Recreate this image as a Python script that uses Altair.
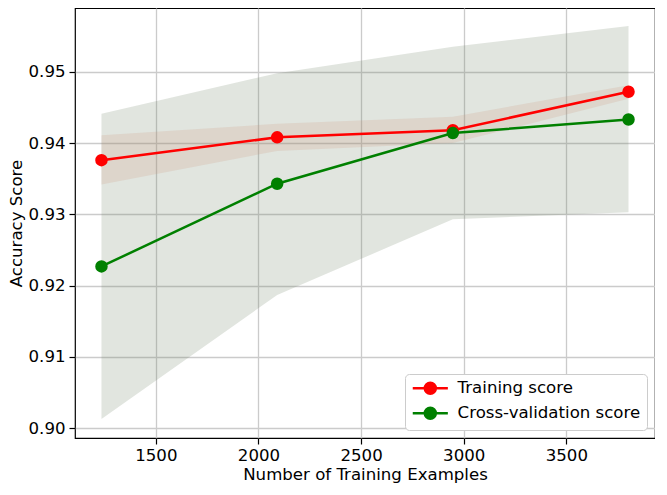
import altair as alt
import pandas as pd

# ---- data ----
train_sizes = [1235, 2091, 2947, 3803]
train_mean = [0.9376, 0.9408, 0.9418, 0.9472]
train_lo = [0.9342, 0.9389, 0.9400, 0.9462]
train_hi = [0.9411, 0.9427, 0.9437, 0.9481]
cv_mean = [0.9227, 0.9343, 0.9414, 0.9433]
cv_lo = [0.9013, 0.9187, 0.9293, 0.9303]
cv_hi = [0.9441, 0.9498, 0.9535, 0.9564]
series_names = ["Training score", "Cross-validation score"]
series_colors = ["#ff0000", "#008000"]
x_ticks = [1500, 2000, 2500, 3000, 3500]
y_ticks = [0.90, 0.91, 0.92, 0.93, 0.94, 0.95]

rows = []
for i, n in enumerate(train_sizes):
    rows.append(dict(series=series_names[0], size=n, mean=train_mean[i], lo=train_lo[i], hi=train_hi[i], order=0))
    rows.append(dict(series=series_names[1], size=n, mean=cv_mean[i], lo=cv_lo[i], hi=cv_hi[i], order=1))
df = pd.DataFrame(rows)

FONT = "DejaVu Sans"
FS = 16.6
x_scale = alt.Scale(domain=[1106, 3932], nice=False, zero=False)
y_scale = alt.Scale(domain=[0.89864, 0.95894], nice=False, zero=False)
col_scale = alt.Scale(domain=series_names, range=series_colors)

x_axis = alt.Axis(title="Number of Training Examples", values=x_ticks, format="d",
                  labelFontSize=FS, titleFontSize=FS, labelFont=FONT, titleFont=FONT,
                  titleFontWeight="normal", labelColor="black", titleColor="black",
                  tickColor="black", tickSize=6, tickWidth=1.2, domain=False,
                  grid=True, gridColor="#cbcbcb", gridWidth=1.3,
                  labelPadding=3, titlePadding=3)
y_axis = alt.Axis(title="Accuracy Score", values=y_ticks, format=".2f",
                  labelFontSize=FS, titleFontSize=FS, labelFont=FONT, titleFont=FONT,
                  titleFontWeight="normal", labelColor="black", titleColor="black",
                  tickColor="black", tickSize=6, tickWidth=1.2, domain=False,
                  grid=True, gridColor="#cbcbcb", gridWidth=1.3,
                  labelPadding=4, titlePadding=4)

base = alt.Chart(df)
train = base.transform_filter(alt.datum.order == 0)
cv = base.transform_filter(alt.datum.order == 1)

cv_band = cv.mark_area(color="#697d5f", opacity=0.2).encode(
    x=alt.X("size:Q", scale=x_scale, axis=x_axis),
    y=alt.Y("lo:Q", scale=y_scale, axis=y_axis),
    y2="hi:Q",
)
train_band = train.mark_area(color="#cd957b", opacity=0.2).encode(
    x=alt.X("size:Q", scale=x_scale),
    y=alt.Y("lo:Q", scale=y_scale),
    y2="hi:Q",
)

train_line = train.mark_line(strokeWidth=2.5, color=series_colors[0]).encode(
    x=alt.X("size:Q", scale=x_scale),
    y=alt.Y("mean:Q", scale=y_scale),
)
cv_line = cv.mark_line(strokeWidth=2.5, color=series_colors[1]).encode(
    x=alt.X("size:Q", scale=x_scale),
    y=alt.Y("mean:Q", scale=y_scale),
)

sym_path = "M-2.7,0L2.7,0M0.85,0A0.85,0.85,0,1,1,-0.85,0A0.85,0.85,0,1,1,0.85,0Z"
leg = alt.Legend(title=None, orient="bottom-right", offset=8,
                 fillColor="white", strokeColor="#cccccc",
                 cornerRadius=4, padding=6, rowPadding=3,
                 labelFont=FONT, labelFontSize=FS, labelColor="black",
                 labelLimit=400,
                 symbolType=sym_path, symbolSize=169, symbolStrokeWidth=2.5,
                 symbolOffset=11, labelOffset=19, symbolOpacity=1)

points = base.mark_point(
    filled=True, size=100, opacity=1, strokeWidth=2.5
).encode(
    x=alt.X("size:Q", scale=x_scale),
    y=alt.Y("mean:Q", scale=y_scale),
    color=alt.Color("series:N", scale=col_scale, legend=leg),
    stroke=alt.Stroke("series:N", scale=col_scale, legend=leg),
)

chart = alt.layer(cv_band, train_band, train_line, cv_line, points).properties(
    width=580, height=430, padding=0
).configure_view(
    stroke="black", strokeWidth=1.2
)

chart.save("out.html", embed_options={"renderer": "svg", "actions": False})
